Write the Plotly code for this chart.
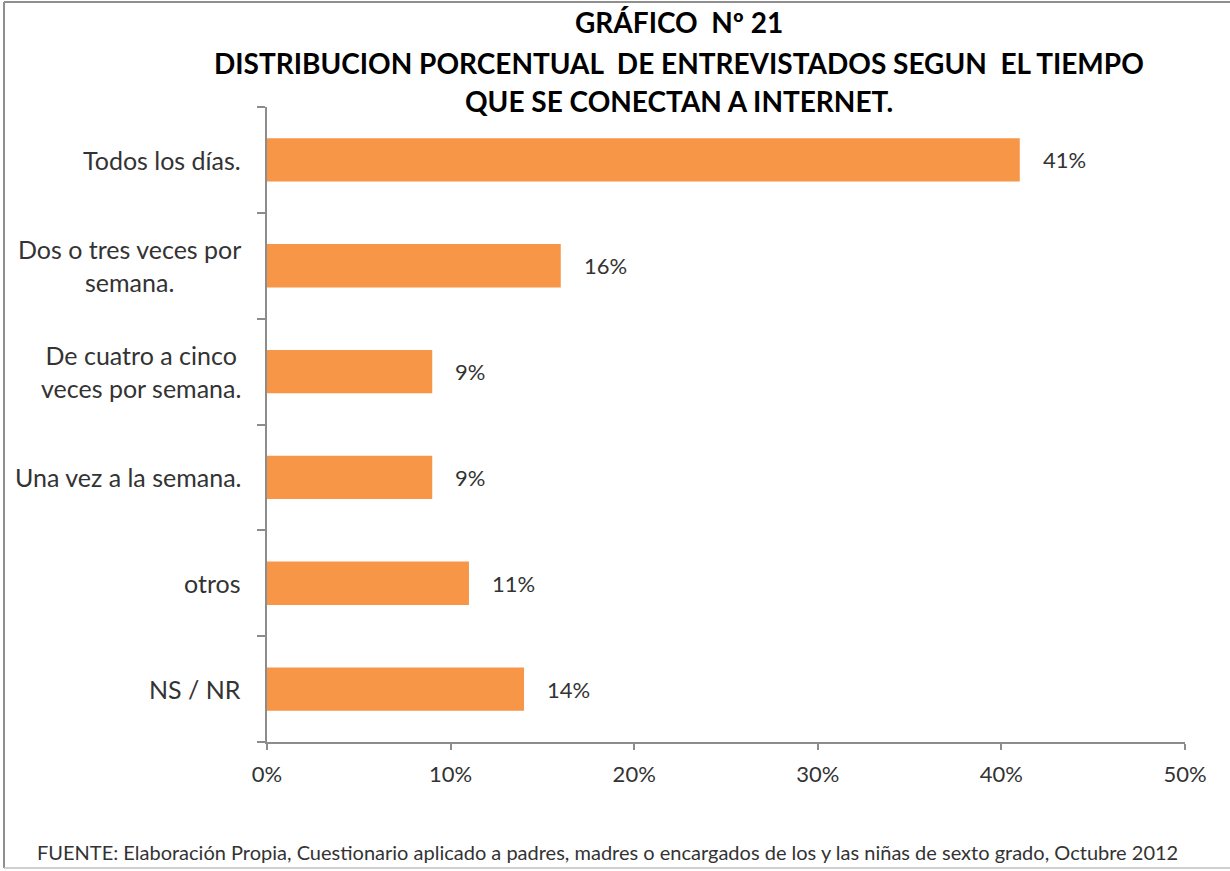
import plotly.graph_objects as go

categories = ["Todos los días.", "Dos o tres veces por<br>semana.", "De cuatro a cinco<br>veces por semana.",
              "Una vez a la semana.", "otros", "NS / NR"]
values = [41, 16, 9, 9, 11, 14]
x_ticks = [0, 10, 20, 30, 40, 50]
x_tick_labels = ["0%", "10%", "20%", "30%", "40%", "50%"]
title_lines = ["GRÁFICO  Nº 21", "DISTRIBUCION PORCENTUAL  DE ENTREVISTADOS SEGUN  EL TIEMPO",
               "QUE SE CONECTAN A INTERNET."]
footer = "FUENTE: Elaboración Propia, Cuestionario aplicado a padres, madres o encargados de los y las niñas de sexto grado, Octubre 2012"

W, H = 1230, 871
L, R, T, B = 267, 1185, 107, 742
pw, ph = R - L, B - T
def px(x): return (x - L) / pw
def py(y): return (B - y) / ph

FONT = "Lato, Carlito, Calibri, sans-serif"
TXT = "#333333"

fig = go.Figure(go.Bar(
    x=values, y=categories, orientation="h",
    marker=dict(color="#F79646", line=dict(width=0)),
    width=0.41,
))

ann = []
for c, v in zip(categories, values):
    ann.append(dict(x=v, y=c, xref="x", yref="y", text=f"{v}%", showarrow=False,
                    xanchor="left", xshift=21, font=dict(size=22, color=TXT, family=FONT)))
    ann.append(dict(x=px(243), y=c, xref="paper", yref="y", text=c, showarrow=False,
                    xanchor="right", align="center", font=dict(size=25, color=TXT, family=FONT)))
for line, yy in zip(title_lines, [22, 63, 101]):
    ann.append(dict(x=px(679), y=py(yy), xref="paper", yref="paper", text=f"<b>{line}</b>",
                    showarrow=False, xanchor="center", yanchor="middle",
                    font=dict(size=28, color="#000000", family=FONT)))
ann.append(dict(x=px(35), y=py(852), xref="paper", yref="paper", text=footer, showarrow=False,
                xanchor="left", yanchor="middle", font=dict(size=20, color=TXT, family=FONT)))

border = dict(color="#8f8f8f", width=2)
fig.update_layout(
    width=W, height=H,
    margin=dict(l=L, r=W - R, t=T, b=H - B),
    paper_bgcolor="white", plot_bgcolor="white",
    showlegend=False,
    annotations=ann,
    font=dict(family=FONT, color=TXT),
    shapes=[
        dict(type="line", xref="paper", yref="paper", x0=px(4), x1=px(1235), y0=py(2), y1=py(2), line=border),
        dict(type="line", xref="paper", yref="paper", x0=px(4), x1=px(4), y0=py(2), y1=py(868), line=border),
        dict(type="line", xref="paper", yref="paper", x0=px(4), x1=px(1235), y0=py(868), y1=py(868),
             line=dict(color="#c0c0c0", width=1.5)),
    ],
)
fig.update_xaxes(range=[0, 50], tickvals=x_ticks, ticktext=x_tick_labels, showgrid=False,
                 zeroline=False, showline=True, linecolor="#8c8c8c", linewidth=1.5,
                 ticks="outside", ticklen=6, tickcolor="#8c8c8c", tickwidth=1.5,
                 ticklabelstandoff=6,
                 tickfont=dict(size=22, color=TXT, family=FONT))
fig.update_yaxes(categoryorder="array", categoryarray=categories[::-1],
                 showgrid=False, zeroline=False, showline=True, linecolor="#8c8c8c", linewidth=1.5,
                 ticks="outside", tickson="boundaries", ticklen=8, tickcolor="#8c8c8c", tickwidth=1.5,
                 showticklabels=False)
fig.write_html("out.html", config={"displayModeBar": False},
               post_script="document.body.style.margin='0';document.body.style.overflow='hidden';")
